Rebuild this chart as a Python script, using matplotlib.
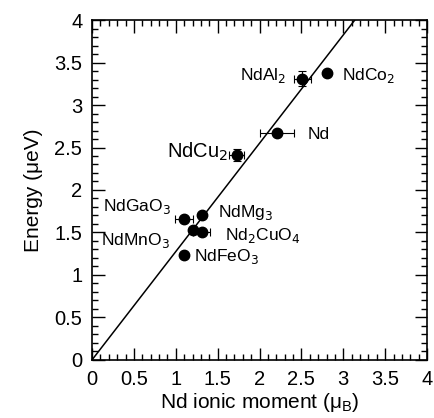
import matplotlib.pyplot as plt
from matplotlib.ticker import MultipleLocator

plt.rcParams['font.family'] = ['Liberation Sans', 'DejaVu Sans']

# compounds: moment (muB), energy (ueV), errors
names = ["NdAl$_2$", "NdCo$_2$", "Nd", "NdCu$_2$", "NdGaO$_3$", "NdMg$_3$",
         "NdMnO$_3$", "Nd$_2$CuO$_4$", "NdFeO$_3$"]
moment = [2.51, 2.81, 2.21, 1.73, 1.10, 1.31, 1.21, 1.31, 1.10]
energy = [3.31, 3.38, 2.67, 2.41, 1.66, 1.71, 1.53, 1.51, 1.24]
moment_err = [0.10, 0.0, 0.20, 0.09, 0.11, 0.0, 0.0, 0.10, 0.0]
energy_err = [0.09, 0.0, 0.0, 0.07, 0.0, 0.0, 0.0, 0.0, 0.0]

# label positions (data coords) and sizes
label_x = [1.77, 2.99, 2.58, 0.90, 0.13, 1.50, 0.11, 1.59, 1.22]
label_y = [3.35, 3.35, 2.65, 2.45, 1.81, 1.74, 1.40, 1.47, 1.22]
label_size = [12.5, 12.5, 12.5, 14.5, 12.5, 12.5, 12.5, 12.5, 12.5]

fit_x = [0, 4]
slope = 1.275

fig = plt.figure(figsize=(4.34, 4.18), dpi=100)
ax = fig.add_axes([0.212, 0.139, 0.772, 0.813])

ax.plot(fit_x, [slope * v for v in fit_x], color='black', lw=1.1)
ax.errorbar(moment, energy, xerr=moment_err, yerr=energy_err, fmt='o',
            color='black', ms=7.5, elinewidth=0.8, capsize=3, capthick=0.8)

for i in range(len(names)):
    ax.text(label_x[i], label_y[i], names[i], fontsize=label_size[i],
            ha='left', va='center')

ax.set_xlim(0, 4)
ax.set_ylim(0, 4)
ax.xaxis.set_major_locator(MultipleLocator(0.5))
ax.yaxis.set_major_locator(MultipleLocator(0.5))
ax.xaxis.set_minor_locator(MultipleLocator(0.1))
ax.yaxis.set_minor_locator(MultipleLocator(0.1))
ax.xaxis.set_major_formatter(plt.FuncFormatter(lambda v, p: '%g' % v))
ax.yaxis.set_major_formatter(plt.FuncFormatter(lambda v, p: '%g' % v))
ax.tick_params(which='both', direction='in', top=True, right=True, labelsize=14.5)
ax.tick_params(which='major', length=9, width=1, pad=7)
ax.tick_params(which='minor', length=4.5, width=1)
for s in ax.spines.values():
    s.set_linewidth(1.2)

ax.set_xlabel('Nd ionic moment (μ$_\\mathregular{B}$)', fontsize=15, labelpad=2)
ax.set_ylabel('Energy (μeV)', fontsize=15, labelpad=8)

fig.savefig('out.png', dpi=100)
